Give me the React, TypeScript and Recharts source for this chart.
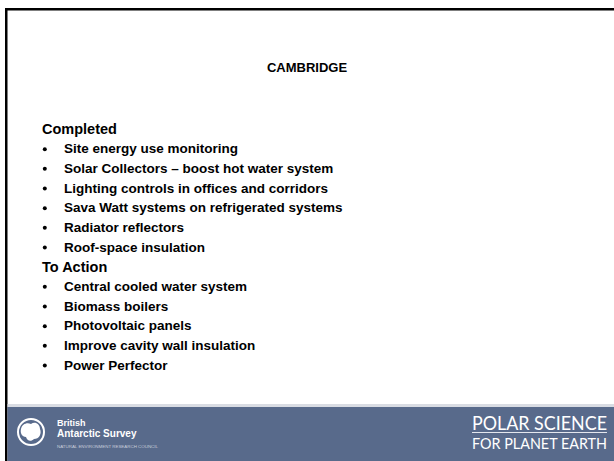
import React from 'react';
import { ScatterChart, Scatter, XAxis, YAxis, Customized } from 'recharts';

// slide content
const title = 'CAMBRIDGE';
const headers = ['Completed', 'To Action'];
const completedItems = [
  'Site energy use monitoring',
  'Solar Collectors \u2013 boost hot water system',
  'Lighting controls in offices and corridors',
  'Sava Watt systems on refrigerated systems',
  'Radiator reflectors',
  'Roof-space insulation',
];
const actionItems = [
  'Central cooled water system',
  'Biomass boilers',
  'Photovoltaic panels',
  'Improve cavity wall insulation',
  'Power Perfector',
];
const footerLeft = ['British', 'Antarctic Survey', 'NATURAL ENVIRONMENT RESEARCH COUNCIL'];
const footerRight = ['POLAR SCIENCE', 'FOR PLANET EARTH'];

type Row = { x: number; row: number; text: string; header: boolean };

const rows: Row[] = [
  { x: 0, row: 0, text: headers[0], header: true },
  ...completedItems.map((t, i) => ({ x: 0, row: i + 1, text: t, header: false })),
  { x: 0, row: completedItems.length + 1, text: headers[1], header: true },
  ...actionItems.map((t, i) => ({ x: 0, row: completedItems.length + 2 + i, text: t, header: false })),
];
const lastRow = rows.length - 1;

const W = 614;
const H = 461;
const FONT = '"Liberation Sans", Arial, sans-serif';

const RowShape = (props: any) => {
  const { cx, cy, payload } = props;
  if (payload.header) {
    return (
      <text x={cx} y={cy + 5.2} fontFamily={FONT} fontWeight="bold" fontSize={14.5} fill="#000">
        {payload.text}
      </text>
    );
  }
  return (
    <g>
      <circle cx={cx + 2.8} cy={cy + 0.5} r={2} fill="#000" />
      <text x={cx + 22} y={cy + 4.8} fontFamily={FONT} fontWeight="bold" fontSize={13.5} fill="#000">
        {payload.text}
      </text>
    </g>
  );
};

const SlideFrame = () => (
  <g>
    <rect x={0} y={0} width={W} height={H} fill="#fff" />
    {/* frame lines */}
    <rect x={5} y={8} width={W - 5} height={2.5} fill="#000" />
    <rect x={5} y={8} width={2.5} height={H - 8} fill="#000" />
    <text x={307} y={71.5} textAnchor="middle" fontFamily={FONT} fontWeight="bold" fontSize={13} fill="#000">
      {title}
    </text>

    {/* footer band */}
    <rect x={7.5} y={404} width={W - 7.5} height={3} fill="#d9dce3" />
    <rect x={7.5} y={407} width={W - 7.5} height={H - 407} fill="#586a8b" />
    <circle cx={31} cy={432} r={13} fill="none" stroke="#fff" strokeWidth={2} />
    <path
      d="M21,429 C22,424 27,422 31,424 C35,421 40,424 40,429 C42,434 39,439 34,439 C31,442 27,441 26,437 C22,437 20,433 21,429 Z"
      fill="#fff"
    />
    <text x={57} y={426} fontFamily={FONT} fontWeight="bold" fontSize={9} fill="#fff">
      {footerLeft[0]}
    </text>
    <text x={57} y={437} fontFamily={FONT} fontWeight="bold" fontSize={10} fill="#fff">
      {footerLeft[1]}
    </text>
    <text x={57} y={448} fontFamily={FONT} fontSize={3.6} fill="#c9cfdb" textLength={101} lengthAdjust="spacingAndGlyphs">
      {footerLeft[2]}
    </text>
    <text x={472} y={430} fontFamily="Lato, sans-serif" fontSize={19} fill="#fff" textLength={135} lengthAdjust="spacingAndGlyphs">
      {footerRight[0]}
    </text>
    <rect x={472} y={432} width={135} height={1} fill="#e4e7ee" />
    <text x={472} y={449} fontFamily="Lato, sans-serif" fontSize={16} fill="#fff" textLength={135} lengthAdjust="spacingAndGlyphs">
      {footerRight[1]}
    </text>
  </g>
);

export default function App() {
  return (
    <div style={{ position: 'absolute', left: 0, top: 0, width: W, height: H, background: '#fff' }}>
      <ScatterChart width={W} height={H} margin={{ top: 129, right: 20, bottom: 96, left: 42 }}>
        <Customized component={SlideFrame} />
        <XAxis dataKey="x" type="number" domain={[0, 1]} hide />
        <YAxis dataKey="row" type="number" domain={[0, lastRow]} reversed hide />
        <Scatter data={rows} shape={RowShape} isAnimationActive={false} />
      </ScatterChart>
    </div>
  );
}
